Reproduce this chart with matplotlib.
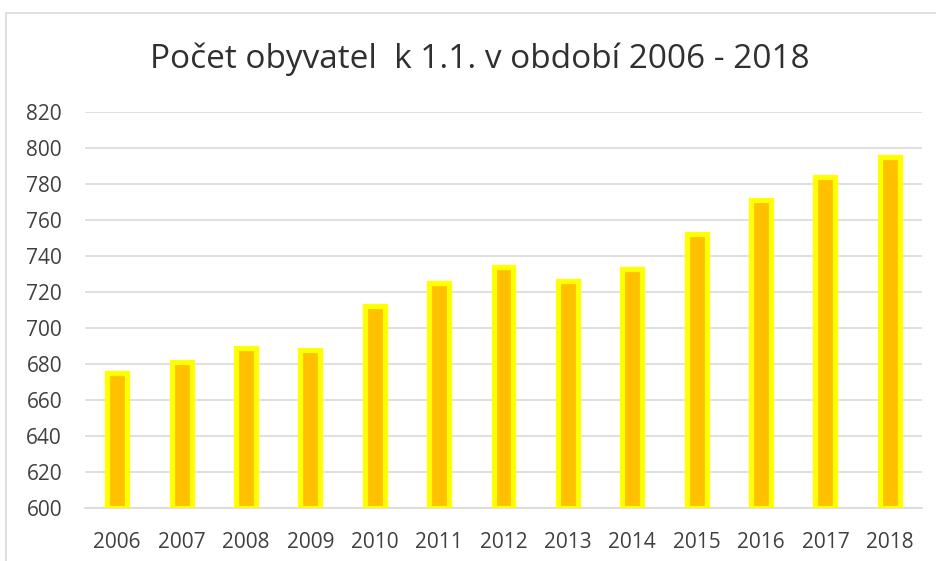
import matplotlib
matplotlib.use("Agg")
import matplotlib.pyplot as plt
from matplotlib.patches import Rectangle

years = ["2006", "2007", "2008", "2009", "2010", "2011", "2012",
         "2013", "2014", "2015", "2016", "2017", "2018"]
population = [675, 681, 689, 688, 712, 725, 734, 726, 733, 752, 771, 784, 795]
y_ticks = list(range(600, 821, 20))
title = "Počet obyvatel  k 1.1. v období 2006 - 2018"

W, H = 937, 561
fig = plt.figure(figsize=(W / 100, H / 100), dpi=100)
plt.rcParams['font.family'] = ['Open Sans', 'DejaVu Sans']

# chart border
fig.patches.append(Rectangle((6.5 / W, -0.05), 1.1, (H - 12.5) / H + 0.05,
                             transform=fig.transFigure, fill=False,
                             edgecolor="#D9D9D9", linewidth=1.2))

ax = fig.add_axes([85 / W, (H - 508) / H, (922 - 85) / W, (508 - 112) / H])
x = list(range(len(years)))
ax.bar(x, [v - 600 for v in population], bottom=600, width=0.31,
       color="#FFC000", edgecolor="#FFFF00", linewidth=3.8, zorder=3)
ax.set_xlim(-0.5, len(years) - 0.5)
ax.set_ylim(600, 820)
ax.set_yticks(y_ticks)
ax.set_xticks(x)
ax.set_xticklabels(years)
ax.grid(axis="y", color="#D9D9D9", linewidth=1.2, zorder=0)
for s in ["top", "right", "left"]:
    ax.spines[s].set_visible(False)
ax.spines["bottom"].set_color("#D9D9D9")
ax.spines["bottom"].set_linewidth(1.2)
ax.tick_params(axis="both", length=0, labelsize=15, colors="#404040")
ax.tick_params(axis="y", pad=16.5)
ax.tick_params(axis="x", pad=17)

fig.text(480 / W, 1 - 68 / H, title, ha="center", va="baseline",
         fontsize=24, color="#303030")

fig.savefig("out.png", dpi=100)
